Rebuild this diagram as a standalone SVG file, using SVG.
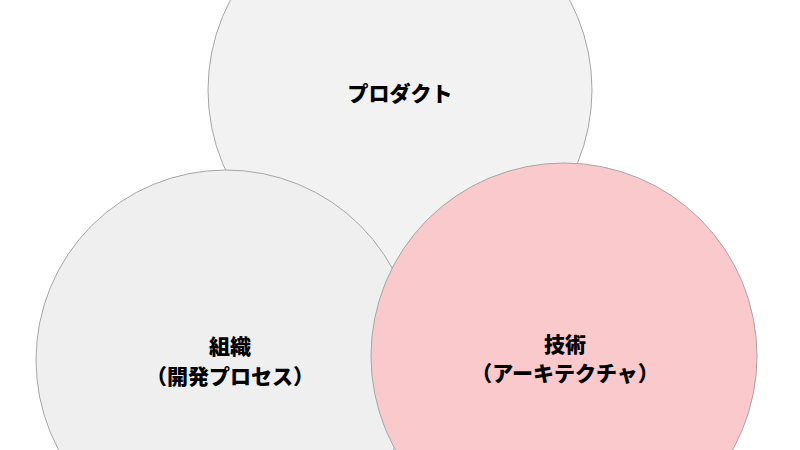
<svg xmlns="http://www.w3.org/2000/svg" width="800" height="450" viewBox="0 0 800 450">
<style>
.c{stroke:#a6a6a6;stroke-width:1}
.g{fill:#f2f2f2}
.g2{fill:#efefef}
.p{fill:#f9c9cb}
.t{font-family:"Noto Sans CJK JP","Noto Sans CJK SC",sans-serif;font-size:21px;font-weight:900;fill:#000;text-anchor:middle;dominant-baseline:central}
</style>
<rect width="800" height="450" fill="#ffffff"/>
<g id="product">
<circle class="c g" cx="400" cy="90" r="192"/>
<text class="t" x="400" y="92">プロダクト</text>
</g>
<g id="organization">
<circle class="c g2" cx="226" cy="360" r="190"/>
<text class="t" x="230" y="345">組織</text>
<text class="t" x="230" y="375">（開発プロセス）</text>
</g>
<g id="technology">
<circle class="c p" cx="564" cy="356" r="193"/>
<text class="t" x="565" y="343">技術</text>
<text class="t" x="565" y="372">（アーキテクチャ）</text>
</g>
<g id="connectors"></g>
</svg>
